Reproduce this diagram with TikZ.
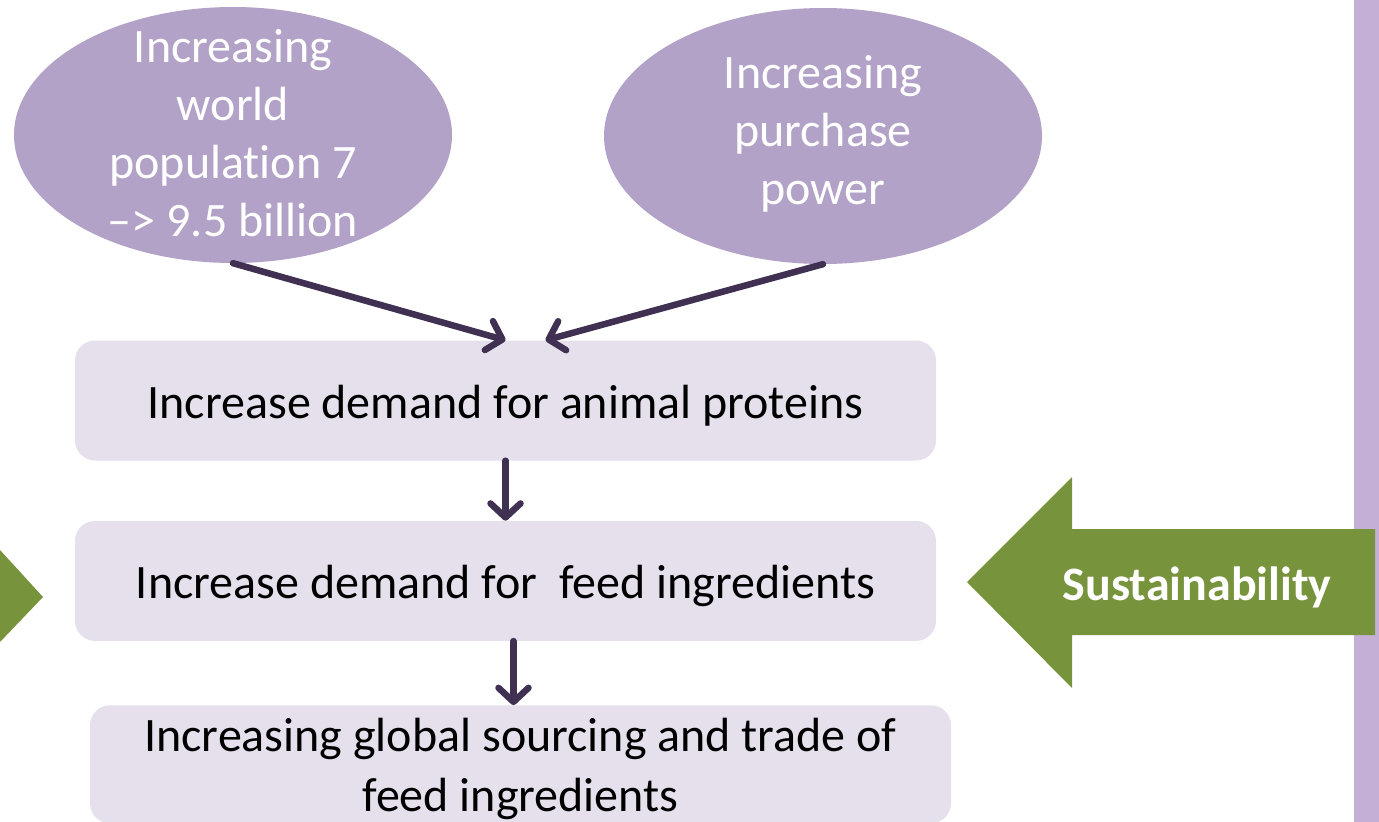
\documentclass[tikz,border=0pt]{standalone}
\usepackage{fontspec}
\setmainfont[Ligatures=NoCommon]{Carlito}
\usetikzlibrary{positioning,shapes.geometric,arrows.meta}

\definecolor{causefill}{HTML}{B2A2C7}
\definecolor{stagefill}{HTML}{E5E0EC}
\definecolor{flowcol}{HTML}{403152}
\definecolor{sustgreen}{HTML}{77933C}
\definecolor{sidebar}{HTML}{C4AFD6}

\newcommand{\lowertext}[2]{\raisebox{-#1}[\height][\depth]{#2}}

\tikzset{
  cause/.style={ellipse, fill=causefill, minimum width=438pt, minimum height=256pt, inner sep=0pt},
  causetext/.style={text=white, align=center, font=\fontsize{48}{58}\selectfont},
  stage/.style={rounded corners=20pt, fill=stagefill, minimum width=861pt, minimum height=120pt,
    align=center, font=\fontsize{48}{60}\selectfont},
  flow/.style={draw=flowcol, line width=6.5pt, line cap=round,
    -{Straight Barb[length=14pt,width=30pt,line cap=round,line join=round]}}
}

\begin{document}
\begin{tikzpicture}[x=1pt,y=-1pt]
  \useasboundingbox (0,0) rectangle (1379,822);

  % side bar and green arrows
  \fill[sidebar] (1354,0) rectangle (1379,822);
  \fill[sustgreen] (0,550) -- (43,597) -- (0,642) -- cycle;
  \fill[sustgreen] (967,582) -- (1072,477) -- (1072,529) -- (1375,529)
    -- (1375,635) -- (1072,635) -- (1072,688) -- cycle;
  \node[text=white, font=\fontsize{48}{58}\selectfont\bfseries] (sust) at (1197,587) {Sustainability};

  % causes
  \node[cause] (pop) at (233,135) {};
  \node[causetext] (poptext) at ([yshift=2pt]pop.center) {Increasing\\world\\population 7\\–> 9.5 billion};
  \node[cause] (power) at (823,136) {};
  \node[causetext] (powertext) at ([yshift=2pt]power.center) {Increasing\\purchase\\power};

  % chain
  \node[stage] (demand) at (505.5,400.5) {\lowertext{5pt}{Increase demand for animal proteins}};
  \node[stage, below=60pt of demand] (feed) {\lowertext{5pt}{Increase demand for\ \ feed ingredients}};
  \node[stage, below=64pt of feed, xshift=15pt, minimum height=118pt] (trade)
    {\lowertext{5pt}{Increasing global sourcing and trade of}\\\lowertext{5pt}{feed ingredients}};

  \draw[flow] (pop.south) -- (demand.north);
  \draw[flow] (power.south) -- ([xshift=40pt]demand.north);
  \draw[flow] (demand.south) -- (feed.north);
  \draw[flow] ([xshift=8pt]feed.south) -- ([xshift=8pt]feed.south |- trade.north);
\end{tikzpicture}
\end{document}
